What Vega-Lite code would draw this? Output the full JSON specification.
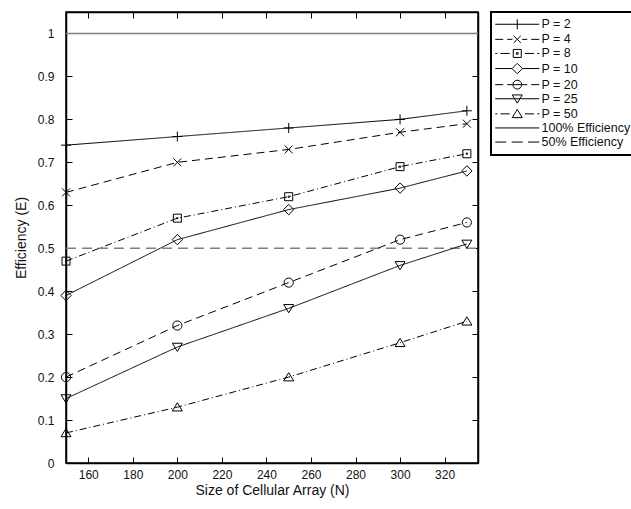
{
  "$schema": "https://vega.github.io/schema/vega-lite/v6.json",
  "width": 412,
  "height": 451,
  "autosize": {"type": "none"},
  "padding": {"left": 66, "top": 12, "right": 153, "bottom": 46},
  "background": "white",
  "datasets": {
    "series": [
      {"N": 150, "E": 0.74, "series": "P = 2"}, {"N": 200, "E": 0.76, "series": "P = 2"}, {"N": 250, "E": 0.78, "series": "P = 2"}, {"N": 300, "E": 0.80, "series": "P = 2"}, {"N": 330, "E": 0.82, "series": "P = 2"},
      {"N": 150, "E": 0.63, "series": "P = 4"}, {"N": 200, "E": 0.70, "series": "P = 4"}, {"N": 250, "E": 0.73, "series": "P = 4"}, {"N": 300, "E": 0.77, "series": "P = 4"}, {"N": 330, "E": 0.79, "series": "P = 4"},
      {"N": 150, "E": 0.47, "series": "P = 8"}, {"N": 200, "E": 0.57, "series": "P = 8"}, {"N": 250, "E": 0.62, "series": "P = 8"}, {"N": 300, "E": 0.69, "series": "P = 8"}, {"N": 330, "E": 0.72, "series": "P = 8"},
      {"N": 150, "E": 0.39, "series": "P = 10"}, {"N": 200, "E": 0.52, "series": "P = 10"}, {"N": 250, "E": 0.59, "series": "P = 10"}, {"N": 300, "E": 0.64, "series": "P = 10"}, {"N": 330, "E": 0.68, "series": "P = 10"},
      {"N": 150, "E": 0.20, "series": "P = 20"}, {"N": 200, "E": 0.32, "series": "P = 20"}, {"N": 250, "E": 0.42, "series": "P = 20"}, {"N": 300, "E": 0.52, "series": "P = 20"}, {"N": 330, "E": 0.56, "series": "P = 20"},
      {"N": 150, "E": 0.15, "series": "P = 25"}, {"N": 200, "E": 0.27, "series": "P = 25"}, {"N": 250, "E": 0.36, "series": "P = 25"}, {"N": 300, "E": 0.46, "series": "P = 25"}, {"N": 330, "E": 0.51, "series": "P = 25"},
      {"N": 150, "E": 0.07, "series": "P = 50"}, {"N": 200, "E": 0.13, "series": "P = 50"}, {"N": 250, "E": 0.20, "series": "P = 50"}, {"N": 300, "E": 0.28, "series": "P = 50"}, {"N": 330, "E": 0.33, "series": "P = 50"}
    ],
    "refs": [
      {"N": 150, "E": 1.0, "series": "100% Efficiency"}, {"N": 335, "E": 1.0, "series": "100% Efficiency"},
      {"N": 150, "E": 0.5, "series": "50% Efficiency"}, {"N": 335, "E": 0.5, "series": "50% Efficiency"}
    ]
  },
  "config": {
    "font": "Liberation Sans",
    "view": {"stroke": "black", "strokeWidth": 1.5},
    "legend": {"strokeWidth": 2},
    "axis": {
      "grid": false,
      "domainColor": "black",
      "domainWidth": 1.5,
      "tickColor": "black",
      "tickSize": -6,
      "labelColor": "#111",
      "titleColor": "#111",
      "labelFont": "Liberation Sans",
      "labelFontSize": 12,
      "titleFont": "Liberation Sans",
      "titleFontSize": 14,
      "titleFontWeight": "normal"
    }
  },
  "resolve": {"scale": {"shape": "independent"}, "axis": {"x": "independent", "y": "independent"}},
  "layer": [
    {
      "data": {"name": "refs"},
      "mark": {"type": "line", "color": "#808080", "strokeWidth": 1.6},
      "encoding": {
        "x": {"field": "N", "type": "quantitative", "scale": {"domain": [150, 335], "nice": false, "zero": false},
              "axis": {"orient": "top", "labels": false, "title": null, "values": [160, 180, 200, 220, 240, 260, 280, 300, 320]}},
        "y": {"field": "E", "type": "quantitative", "scale": {"domain": [0, 1.05], "nice": false},
              "axis": {"orient": "right", "labels": false, "title": null, "values": [0, 0.1, 0.2, 0.3, 0.4, 0.5, 0.6, 0.7, 0.8, 0.9, 1]}},
        "strokeDash": {"field": "series", "type": "nominal", "legend": null,
          "scale": {"domain": ["P = 2", "P = 4", "P = 8", "P = 10", "P = 20", "P = 25", "P = 50", "100% Efficiency", "50% Efficiency"],
                    "range": [[1, 0], [8, 5], [7, 3, 1, 3], [1, 0], [8, 5], [1, 0], [7, 3, 1, 3], [1, 0], [10, 6]]}}
      }
    },
    {
      "data": {"name": "series"},
      "mark": {"type": "line", "color": "black", "strokeWidth": 1},
      "encoding": {
        "x": {"field": "N", "type": "quantitative",
              "axis": {"orient": "bottom", "title": "Size of Cellular Array (N)", "values": [160, 180, 200, 220, 240, 260, 280, 300, 320], "labelPadding": 12, "titlePadding": 3}},
        "y": {"field": "E", "type": "quantitative",
              "axis": {"orient": "left", "title": "Efficiency (E)", "values": [0, 0.1, 0.2, 0.3, 0.4, 0.5, 0.6, 0.7, 0.8, 0.9, 1], "format": "~g", "labelPadding": 18, "titlePadding": 9}},
        "strokeDash": {"field": "series", "type": "nominal", "legend": null}
      }
    },
    {
      "data": {"name": "series"},
      "mark": {"type": "point", "filled": false, "color": "black", "strokeWidth": 1, "size": 64, "opacity": 1},
      "encoding": {
        "x": {"field": "N", "type": "quantitative", "axis": null},
        "y": {"field": "E", "type": "quantitative", "axis": null},
        "shape": {"field": "series", "type": "nominal", "legend": null,
          "scale": {"domain": ["P = 2", "P = 4", "P = 8", "P = 10", "P = 20", "P = 25", "P = 50"],
                    "range": [
                      "M-1.25,0H1.25M0,-1.25V1.25",
                      "M-1,-1L1,1M-1,1L1,-1",
                      "M-1,-1H1V1H-1ZM-0.15,-0.15H0.15V0.15H-0.15Z",
                      "M0,-1.3L1.3,0L0,1.3L-1.3,0Z",
                      "M1.15,0A1.15,1.15,0,1,1,-1.15,0A1.15,1.15,0,1,1,1.15,0",
                      "M-1.25,-0.95H1.25L0,1.1Z",
                      "M-1.25,0.95H1.25L0,-1.1Z"
                    ]}}
      }
    },
    {
      "data": {"name": "series"},
      "mark": {"type": "point", "filled": false, "color": "black", "size": 64, "opacity": 0},
      "encoding": {
        "x": {"field": "N", "type": "quantitative", "axis": null},
        "y": {"field": "E", "type": "quantitative", "axis": null},
        "shape": {"field": "series", "type": "nominal",
          "scale": {"domain": ["P = 2", "P = 4", "P = 8", "P = 10", "P = 20", "P = 25", "P = 50", "100% Efficiency", "50% Efficiency"],
                    "range": [
                      "M-2,0H9M3.5,-1.25V1.25",
                      "M-2,0H0M1,0H2.3M4.7,0H6M7,0H9M2.6,-0.9L4.4,0.9M2.6,0.9L4.4,-0.9",
                      "M-2,0H-1.5M-0.7,0H1.6M2.5,-1H4.5V1H2.5ZM3.3,-0.2H3.7V0.2H3.3ZM5.4,0H7.7M8.5,0H9",
                      "M-2,0H2.2M4.8,0H9M3.5,-1.3L4.8,0L3.5,1.3L2.2,0Z",
                      "M-2,0H0M1,0H2.3M4.7,0H6M7,0H9M4.6,0A1.1,1.1,0,1,1,2.4,0A1.1,1.1,0,1,1,4.6,0M2.4,0H4.6",
                      "M-2,0H9M2.25,-0.95H4.75L3.5,1.1Z",
                      "M-2,0H-1.5M-0.7,0H1.6M2.25,0.95H4.75L3.5,-1.1ZM5.4,0H7.7M8.5,0H9",
                      "M-2,0H9",
                      "M-2,0H0.8M2.1,0H4.9M6.2,0H9"
                    ]},
          "legend": {
            "title": null,
            "orient": "right",
            "offset": 9,
            "padding": 6,
            "strokeColor": "black",
            "symbolSize": 64,
            "symbolStrokeColor": "black",
            "symbolStrokeWidth": 1,
            "symbolFillColor": "transparent",
            "symbolOpacity": 1,
            "labelFont": "Liberation Sans",
            "labelFontSize": 12.5,
            "labelColor": "#111",
            "labelOffset": 32,
            "labelLimit": 200,
            "rowPadding": 1.1
          }
        }
      }
    }
  ]
}
